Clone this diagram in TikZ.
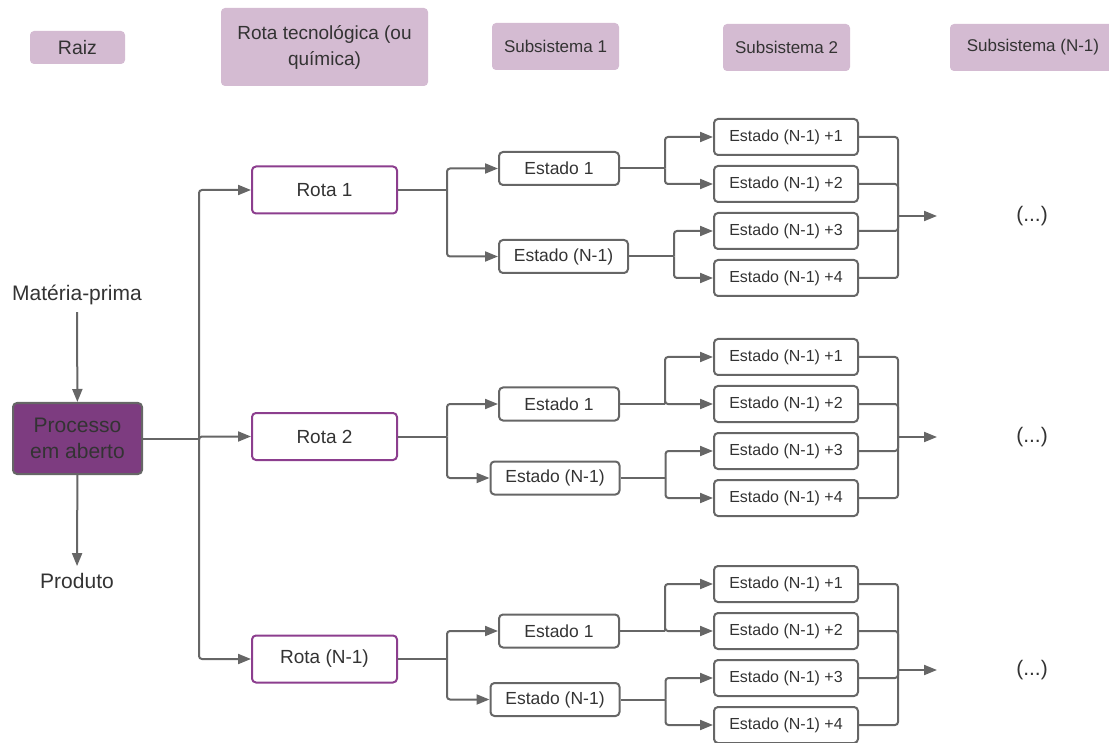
\documentclass[tikz,border=0pt]{standalone}
\usepackage{fontspec}
\setmainfont{Liberation Sans}
\usetikzlibrary{arrows.meta}

\definecolor{cabecalho}{RGB}{212,187,210}
\definecolor{roxo}{RGB}{125,60,128}
\definecolor{roxoborda}{RGB}{140,62,142}
\definecolor{linha}{RGB}{102,102,102}
\definecolor{texto}{RGB}{51,51,51}

\begin{document}
\begin{tikzpicture}[x=1pt, y=-1pt,
    every node/.style={text=texto, inner sep=0pt, font=\fontsize{17}{20}\selectfont},
    cabec/.style={fill=cabecalho, rounded corners=4pt, minimum height=47pt, font=\fontsize{17}{20}\selectfont},
    rotulo/.style={inner sep=7pt, font=\fontsize{21}{26}\selectfont},
    rota/.style={draw=roxoborda, line width=2pt, rounded corners=4pt, minimum width=145pt, minimum height=47pt, font=\fontsize{19}{22}\selectfont},
    estado/.style={draw=linha, line width=2pt, rounded corners=4pt, minimum height=33pt, font=\fontsize{17.5}{20}\selectfont},
    subestado/.style={draw=linha, line width=2pt, rounded corners=4pt, minimum width=144pt, minimum height=36pt, font=\fontsize{16}{18}\selectfont},
    conn/.style={draw=linha, line width=2pt, rounded corners=3pt},
    seta/.style={conn, -{Triangle[length=13pt, width=10pt]}}]
    \useasboundingbox (0,0) rectangle (1109,743);

    % cabecalhos
    \node[cabec, minimum width=95pt, minimum height=33pt, font=\fontsize{19.5}{22}\selectfont] (raiz) at (77.5,47.5) {Raiz};
    \node[cabec, minimum width=207pt, minimum height=78pt, align=center, font=\fontsize{19}{26}\selectfont] (rotatec) at (324.5,47) {Rota tecnológica (ou\\química)};
    \node[cabec, minimum width=127pt] (sub1) at (555.5,46.5) {Subsistema 1};
    \node[cabec, minimum width=127pt] (sub2) at (786.5,47.5) {Subsistema 2};
    \node[cabec, minimum width=166pt] (subn) at (1033,47.5) {Subsistema (N-1)};

    % raiz
    \node[rotulo] (materia) at (77,295) {Matéria-prima};
    \node[draw=linha, fill=roxo, line width=2pt, rounded corners=4pt, minimum width=129pt, minimum height=71pt, align=center, font=\fontsize{21}{26}\selectfont] (processo) at (77.5,438.5) {Processo\\em aberto};
    \node[rotulo] (produto) at (77,581) {Produto};

    \draw[seta] (materia) -- (processo);
    \draw[seta] (processo) -- (produto);
    \draw[conn] (processo.east) -- ++(56,0) coordinate (ramo);

    % rotas, estados e subestados
    \foreach \g/\nome/\yr/\ya/\xb/\yb/\yp/\ym in {1/Rota 1/190/168.5/563.5/256.5/137/216, 2/Rota 2/436.5/404/555/478/357/437, 3/Rota (N-1)/659/631/555/699.5/584/670} {
        \node[rota] (rota\g) at (324.5,\yr) {\nome};
        \draw[seta] (ramo) |- (rota\g.west);

        \node[estado, minimum width=120pt] (est\g-1) at (559,\ya) {Estado 1};
        \node[estado, minimum width=129pt] (est\g-n) at (\xb,\yb) {Estado (N-1)};
        \foreach \k in {1,...,4}
            \node[subestado] (sub\g-\k) at (786,{\yp+47*(\k-1)}) {Estado (N-1) +\k};

        \draw[conn] (rota\g.east) -- ++(49,0) coordinate (r\g);
        \draw[seta] (r\g) |- (est\g-1.west);
        \draw[seta] (r\g) |- (est\g-n.west);

        \draw[conn] (est\g-1.east) -- ++(45,0) coordinate (a\g);
        \draw[seta] (a\g) |- (sub\g-1.west);
        \draw[seta] (a\g) |- (sub\g-2.west);
        \draw[conn] (est\g-n.east) -- ++(45,0) coordinate (b\g);
        \draw[seta] (b\g) |- (sub\g-3.west);
        \draw[seta] (b\g) |- (sub\g-4.west);

        \coordinate (m\g) at (898,\ym);
        \coordinate (t\g) at (937,\ym);
        \foreach \k in {1,...,4}
            \draw[conn] (sub\g-\k.east) -| (m\g);
        \draw[seta] (m\g) -- (t\g);
        \node[font=\fontsize{21}{26}\selectfont] (ret\g) at (1032,\ym) {(...)};
    }
\end{tikzpicture}
\end{document}
